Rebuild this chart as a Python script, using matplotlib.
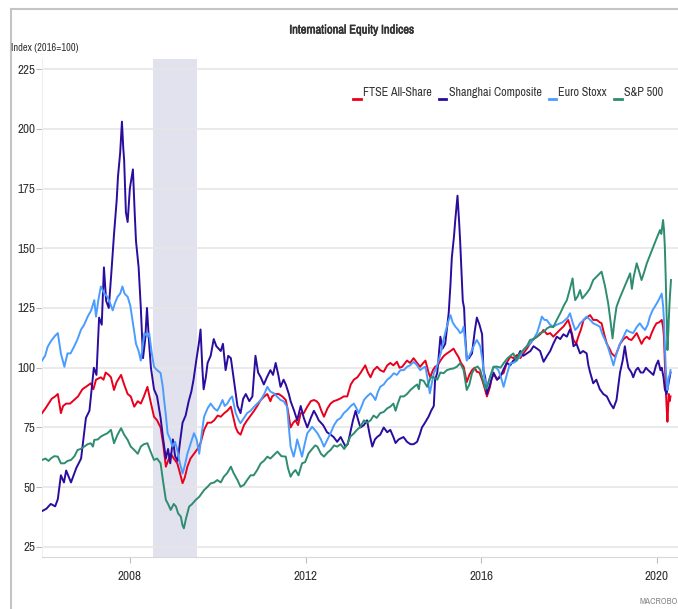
import matplotlib
matplotlib.use('Agg')
import matplotlib.pyplot as plt
import matplotlib.patheffects as pe
from matplotlib import font_manager
from matplotlib.lines import Line2D
from matplotlib.legend_handler import HandlerBase

# the reference uses a condensed sans; take one if the system has it
narrow = None
stretch = 'normal'
for f in font_manager.fontManager.ttflist:
    if 'Narrow' in f.name or 'Condensed' in f.name:
        narrow = f.name
        break
    if f.stretch in ('condensed', 'semi-condensed') and narrow is None:
        narrow, stretch = f.name, f.stretch
if narrow:
    plt.rcParams['font.family'] = [narrow, 'Liberation Sans', 'DejaVu Sans']
    plt.rcParams['font.stretch'] = stretch
    fs = 9
else:
    plt.rcParams['font.family'] = ['Liberation Sans', 'DejaVu Sans']
    fs = 8

title = 'International Equity Indices'
ylabel = 'Index (2016=100)'
names = ['FTSE All-Share', 'Shanghai Composite', 'Euro Stoxx', 'S&P 500']
colors = ['#e8001c', '#2a0c9e', '#4a9cff', '#2e8c70']
recession = (2008.52, 2009.52)
yticks = [25, 50, 75, 100, 125, 150, 175, 200, 225]
xticks = [2008, 2012, 2016, 2020]

# FTSE All-Share
ftse_t = [2006.00, 2006.08, 2006.15, 2006.22, 2006.30, 2006.36, 2006.43, 2006.48, 2006.55, 2006.64,
          2006.73, 2006.82, 2006.92, 2007.00, 2007.11, 2007.17, 2007.23, 2007.34, 2007.40, 2007.45,
          2007.52, 2007.57, 2007.64, 2007.70, 2007.80, 2007.87, 2007.95, 2008.02, 2008.10, 2008.18,
          2008.25, 2008.32, 2008.40, 2008.47, 2008.55, 2008.62, 2008.70, 2008.76, 2008.82, 2008.87,
          2008.93, 2009.00, 2009.08, 2009.14, 2009.20, 2009.25, 2009.31, 2009.38, 2009.46, 2009.54,
          2009.61, 2009.69, 2009.77, 2009.85, 2009.92, 2010.00, 2010.07, 2010.15, 2010.22, 2010.30,
          2010.36, 2010.41, 2010.46, 2010.52, 2010.60, 2010.67, 2010.75, 2010.83, 2010.90, 2010.98,
          2011.06, 2011.13, 2011.20, 2011.24, 2011.32, 2011.39, 2011.47, 2011.55, 2011.60, 2011.66,
          2011.72, 2011.77, 2011.83, 2011.89, 2011.96, 2012.04, 2012.12, 2012.19, 2012.25, 2012.30,
          2012.36, 2012.42, 2012.50, 2012.57, 2012.64, 2012.72, 2012.80, 2012.87, 2012.95, 2013.03,
          2013.10, 2013.18, 2013.25, 2013.36, 2013.42, 2013.48, 2013.55, 2013.63, 2013.70, 2013.78,
          2013.86, 2013.93, 2014.00, 2014.08, 2014.14, 2014.20, 2014.31, 2014.38, 2014.46, 2014.54,
          2014.61, 2014.68, 2014.73, 2014.80, 2014.84, 2014.90, 2014.95, 2015.01, 2015.07, 2015.15,
          2015.22, 2015.30, 2015.37, 2015.43, 2015.48, 2015.54, 2015.60, 2015.67, 2015.73, 2015.79,
          2015.85, 2015.90, 2015.96, 2016.02, 2016.07, 2016.13, 2016.20, 2016.24, 2016.30, 2016.36,
          2016.44, 2016.51, 2016.58, 2016.66, 2016.74, 2016.81, 2016.89, 2016.96, 2017.04, 2017.11,
          2017.19, 2017.27, 2017.34, 2017.42, 2017.50, 2017.57, 2017.64, 2017.72, 2017.80, 2017.87,
          2017.98, 2018.03, 2018.10, 2018.16, 2018.21, 2018.27, 2018.33, 2018.40, 2018.48, 2018.55,
          2018.63, 2018.70, 2018.74, 2018.80, 2018.86, 2018.92, 2018.97, 2019.05, 2019.10, 2019.16,
          2019.24, 2019.31, 2019.36, 2019.42, 2019.48, 2019.54, 2019.60, 2019.65, 2019.71, 2019.77,
          2019.83, 2019.88, 2019.94, 2019.99, 2020.05, 2020.11, 2020.14, 2020.16, 2020.18, 2020.20,
          2020.22, 2020.24, 2020.26, 2020.27, 2020.29, 2020.31]
ftse_v = [81, 83, 85, 87, 88, 89, 81, 84, 85, 85,
          86.5, 88, 91, 92, 93.5, 91, 95, 96, 95, 98,
          97, 96, 90.7, 94, 97, 93, 89, 88, 83.7, 86,
          85, 88, 92, 86, 79.5, 78, 75, 68, 58.6, 61,
          64, 62, 60, 56, 51.7, 54, 58.6, 62, 64, 66,
          68.5, 74, 77, 77, 78, 80, 79.5, 81, 82, 83.7,
          79, 75, 73, 72, 76, 78, 80, 82, 84, 86.5,
          88, 89, 86, 88, 89, 89, 88, 86.5, 82, 75,
          77, 78, 76, 81, 81, 83.7, 86, 86.5, 86, 85,
          82, 79.5, 83, 85, 86, 86.5, 87.2, 88, 88, 93,
          95, 96, 97.8, 101, 98, 96, 99, 100.4, 99, 98.3,
          101, 102, 101, 102.5, 100, 100.4, 103, 102, 104, 102,
          100.4, 102, 103, 98, 96, 99, 100.4, 101, 103, 105,
          106, 107, 108, 106, 104.6, 102, 100.4, 94, 97, 99,
          100, 98.3, 98, 95, 92, 88, 92, 96, 97, 95,
          97, 97.8, 102, 104.6, 104, 105.3, 104, 106, 108, 110,
          112, 113, 114, 115.8, 114, 114.5, 113, 114.5, 116, 117.2,
          120, 117, 111.6, 110, 113, 116, 120, 121, 122, 120,
          120, 119, 118.6, 114, 110, 108, 106, 104.6, 107, 110,
          112, 113, 112, 111.6, 113, 114.5, 112, 110, 112, 113,
          112, 114.5, 117, 118.6, 119, 120, 117, 113, 102, 92,
          84, 77.4, 85, 89, 86, 88]

# Shanghai Composite
shcomp_t = [2006.00, 2006.10, 2006.20, 2006.30, 2006.36, 2006.43, 2006.50, 2006.55, 2006.66, 2006.78,
            2006.89, 2007.00, 2007.08, 2007.18, 2007.24, 2007.30, 2007.36, 2007.41, 2007.46, 2007.52,
            2007.58, 2007.64, 2007.70, 2007.73, 2007.78, 2007.82, 2007.85, 2007.87, 2007.91, 2007.95,
            2008.00, 2008.07, 2008.11, 2008.14, 2008.20, 2008.25, 2008.30, 2008.35, 2008.39, 2008.44,
            2008.48, 2008.55, 2008.62, 2008.70, 2008.76, 2008.82, 2008.87, 2008.92, 2008.98, 2009.03,
            2009.09, 2009.15, 2009.20, 2009.27, 2009.34, 2009.40, 2009.45, 2009.52, 2009.57, 2009.61,
            2009.65, 2009.68, 2009.73, 2009.77, 2009.84, 2009.91, 2009.97, 2010.07, 2010.12, 2010.18,
            2010.24, 2010.30, 2010.36, 2010.45, 2010.52, 2010.58, 2010.64, 2010.72, 2010.79, 2010.86,
            2010.92, 2010.98, 2011.05, 2011.12, 2011.20, 2011.26, 2011.32, 2011.38, 2011.43, 2011.50,
            2011.55, 2011.62, 2011.66, 2011.74, 2011.81, 2011.89, 2011.96, 2012.04, 2012.12, 2012.19,
            2012.25, 2012.30, 2012.40, 2012.49, 2012.57, 2012.64, 2012.72, 2012.80, 2012.91, 2012.96,
            2013.08, 2013.14, 2013.20, 2013.25, 2013.33, 2013.40, 2013.46, 2013.52, 2013.58, 2013.63,
            2013.70, 2013.78, 2013.86, 2013.93, 2014.00, 2014.05, 2014.12, 2014.23, 2014.31, 2014.39,
            2014.46, 2014.54, 2014.60, 2014.65, 2014.72, 2014.80, 2014.86, 2014.92, 2014.95, 2015.00,
            2015.07, 2015.12, 2015.18, 2015.26, 2015.30, 2015.33, 2015.38, 2015.41, 2015.44, 2015.46,
            2015.50, 2015.52, 2015.56, 2015.58, 2015.61, 2015.64, 2015.67, 2015.72, 2015.79, 2015.85,
            2015.90, 2015.96, 2016.02, 2016.05, 2016.09, 2016.13, 2016.20, 2016.28, 2016.36, 2016.43,
            2016.50, 2016.58, 2016.66, 2016.73, 2016.81, 2016.89, 2016.96, 2017.04, 2017.12, 2017.19,
            2017.27, 2017.34, 2017.42, 2017.50, 2017.57, 2017.64, 2017.72, 2017.80, 2017.87, 2017.95,
            2018.02, 2018.06, 2018.10, 2018.17, 2018.25, 2018.32, 2018.40, 2018.44, 2018.48, 2018.55,
            2018.62, 2018.70, 2018.78, 2018.86, 2018.94, 2019.01, 2019.08, 2019.16, 2019.22, 2019.27,
            2019.31, 2019.35, 2019.42, 2019.46, 2019.52, 2019.57, 2019.63, 2019.69, 2019.75, 2019.80,
            2019.86, 2019.92, 2019.98, 2020.03, 2020.08, 2020.11, 2020.15, 2020.18, 2020.22, 2020.26,
            2020.31]
shcomp_v = [40, 41, 43, 42, 45, 55, 52, 57, 52, 58,
            62, 79, 82, 100, 97, 121, 118, 142, 128, 125,
            140, 156, 170, 180, 190, 203, 192, 187, 165, 161,
            175, 183, 165, 153, 142, 125, 104, 112, 125, 110,
            100, 91, 88, 79, 70, 62, 66, 60, 70, 63,
            61, 70, 77, 80, 86, 90, 95, 104, 110, 116,
            100, 91, 96, 102, 105, 112, 109, 107, 110, 99,
            105, 104, 96, 84, 81, 87, 89, 86, 88, 105,
            98, 96, 93, 96, 99, 97, 102, 97, 92, 95,
            93, 89, 86, 82, 78, 84, 79, 75, 79, 82,
            80, 78, 76, 73, 72, 71, 69, 71, 67, 68,
            78, 82, 78, 75, 76, 78, 72, 67, 70, 71,
            72, 75, 73, 74, 71, 68.5, 70, 71, 69, 68,
            68, 69, 72, 75, 77, 79.5, 82, 84, 95, 98,
            113, 108, 110, 123, 135, 146, 155, 162, 168, 172,
            160, 153, 137, 128, 125, 112, 104, 104, 106, 115,
            121, 118, 114, 99, 96, 89, 93, 98, 95, 96,
            99, 102, 101, 103, 104, 107, 105, 106, 107, 109,
            108, 107, 102.5, 105, 107, 110, 113, 112, 114, 113,
            116, 114, 109, 110, 106, 107, 106, 101, 98, 93.5,
            95, 91, 89, 88, 85, 83, 86.5, 98, 103, 109,
            104, 100, 98, 96, 99, 100, 98, 98, 100, 99,
            98, 97, 101, 103, 99, 100, 96, 91, 89, 93,
            98]

# Euro Stoxx
estoxx_t = [2006.00, 2006.07, 2006.13, 2006.20, 2006.28, 2006.36, 2006.43, 2006.51, 2006.58, 2006.65,
            2006.73, 2006.81, 2006.89, 2006.96, 2007.04, 2007.12, 2007.19, 2007.23, 2007.28, 2007.34,
            2007.42, 2007.49, 2007.55, 2007.61, 2007.66, 2007.72, 2007.78, 2007.83, 2007.88, 2007.95,
            2008.01, 2008.06, 2008.10, 2008.14, 2008.20, 2008.25, 2008.33, 2008.40, 2008.44, 2008.50,
            2008.55, 2008.62, 2008.70, 2008.75, 2008.78, 2008.82, 2008.86, 2008.92, 2008.97, 2009.03,
            2009.08, 2009.14, 2009.20, 2009.25, 2009.31, 2009.38, 2009.46, 2009.52, 2009.58, 2009.64,
            2009.69, 2009.77, 2009.84, 2009.92, 2009.99, 2010.05, 2010.11, 2010.16, 2010.22, 2010.28,
            2010.33, 2010.41, 2010.48, 2010.52, 2010.60, 2010.67, 2010.75, 2010.83, 2010.90, 2010.98,
            2011.06, 2011.13, 2011.20, 2011.28, 2011.35, 2011.43, 2011.50, 2011.58, 2011.62, 2011.66,
            2011.73, 2011.77, 2011.81, 2011.87, 2011.92, 2011.98, 2012.04, 2012.10, 2012.15, 2012.21,
            2012.27, 2012.35, 2012.42, 2012.50, 2012.57, 2012.65, 2012.72, 2012.80, 2012.87, 2012.95,
            2013.03, 2013.10, 2013.16, 2013.21, 2013.28, 2013.33, 2013.40, 2013.48, 2013.54, 2013.59,
            2013.65, 2013.70, 2013.78, 2013.86, 2013.93, 2014.01, 2014.08, 2014.16, 2014.24, 2014.31,
            2014.38, 2014.46, 2014.54, 2014.61, 2014.68, 2014.73, 2014.79, 2014.83, 2014.88, 2014.92,
            2014.98, 2015.03, 2015.09, 2015.14, 2015.20, 2015.26, 2015.30, 2015.35, 2015.41, 2015.47,
            2015.52, 2015.56, 2015.60, 2015.64, 2015.67, 2015.73, 2015.79, 2015.85, 2015.90, 2015.95,
            2015.98, 2016.03, 2016.07, 2016.13, 2016.20, 2016.28, 2016.34, 2016.39, 2016.45, 2016.51,
            2016.58, 2016.66, 2016.73, 2016.81, 2016.89, 2016.96, 2017.04, 2017.11, 2017.19, 2017.27,
            2017.33, 2017.38, 2017.44, 2017.49, 2017.57, 2017.64, 2017.72, 2017.80, 2017.85, 2017.91,
            2017.97, 2018.02, 2018.08, 2018.14, 2018.20, 2018.25, 2018.33, 2018.40, 2018.48, 2018.55,
            2018.62, 2018.70, 2018.76, 2018.82, 2018.88, 2018.93, 2018.98, 2019.01, 2019.08, 2019.16,
            2019.24, 2019.31, 2019.38, 2019.46, 2019.54, 2019.61, 2019.67, 2019.73, 2019.79, 2019.84,
            2019.90, 2019.95, 2020.03, 2020.11, 2020.14, 2020.16, 2020.18, 2020.20, 2020.22, 2020.24,
            2020.26, 2020.27, 2020.29, 2020.31]
estoxx_v = [103, 105, 108.8, 111, 113, 114.5, 106, 100.4, 106, 106,
            108.8, 112, 116, 118, 121.4, 124, 128.3, 121.4, 128, 134,
            131, 129.7, 127, 124, 127, 129.7, 131, 134, 131, 129.7,
            126, 120, 115, 110, 107, 103, 114.5, 113, 114.5, 106,
            100.4, 99, 97.8, 92, 86.5, 80, 72.6, 70, 67, 69,
            65.6, 60, 55.8, 59, 64, 68, 72.6, 70, 64, 73,
            79.5, 83, 85, 83, 82, 84, 86.5, 84, 85, 87,
            88, 81, 78, 76.8, 79, 81, 82, 83.7, 85, 86.5,
            89, 92, 90, 89.3, 88, 86.5, 86, 83.7, 75, 67,
            62.8, 66, 70, 66, 62.8, 68, 72.6, 74, 75.3, 74,
            72.6, 70, 67, 70, 72.6, 76, 78, 79, 81, 82.3,
            84, 85, 83, 81, 84, 86.5, 88, 89.3, 88, 86.5,
            90, 92, 93, 95, 96, 97.7, 97, 99, 99, 100.4,
            101, 102.5, 101, 99, 100, 100.4, 94, 89.3, 94, 97.7,
            100, 103, 107, 111.6, 116, 120, 122, 119, 117.2, 116,
            114.5, 115, 117.2, 110, 103, 105, 107.4, 110, 111.6, 110,
            108.8, 103, 96, 92, 96, 100.4, 100, 99, 96, 92,
            97, 101.9, 102, 103, 105, 107.4, 109, 110, 112, 114.5,
            118, 121.4, 120, 120, 118, 117.2, 118, 118.6, 119, 120,
            121, 122.8, 119, 115.8, 117, 118.6, 120, 121.4, 120, 118.6,
            118, 117.2, 114, 111.6, 109, 106, 103, 101, 106, 110,
            113, 115.8, 115, 114.5, 117, 118.6, 117, 115.8, 118, 121.4,
            124, 125.5, 128, 131, 126, 120, 110, 100.4, 94, 90.7,
            94, 96, 97, 99]

# S&P 500
spx_t = [2006.00, 2006.08, 2006.15, 2006.20, 2006.28, 2006.36, 2006.43, 2006.51, 2006.58, 2006.66,
         2006.74, 2006.81, 2006.88, 2006.96, 2007.04, 2007.11, 2007.16, 2007.19, 2007.27, 2007.34,
         2007.42, 2007.49, 2007.57, 2007.64, 2007.72, 2007.80, 2007.87, 2007.95, 2008.02, 2008.10,
         2008.18, 2008.25, 2008.32, 2008.40, 2008.47, 2008.55, 2008.62, 2008.70, 2008.76, 2008.82,
         2008.87, 2008.93, 2009.00, 2009.05, 2009.10, 2009.16, 2009.20, 2009.23, 2009.28, 2009.35,
         2009.42, 2009.50, 2009.58, 2009.69, 2009.76, 2009.84, 2009.92, 2009.99, 2010.07, 2010.14,
         2010.22, 2010.30, 2010.36, 2010.45, 2010.52, 2010.60, 2010.67, 2010.75, 2010.82, 2010.90,
         2010.98, 2011.05, 2011.13, 2011.20, 2011.28, 2011.36, 2011.45, 2011.55, 2011.60, 2011.66,
         2011.71, 2011.77, 2011.84, 2011.92, 2011.99, 2012.07, 2012.15, 2012.22, 2012.27, 2012.35,
         2012.42, 2012.50, 2012.57, 2012.65, 2012.72, 2012.80, 2012.88, 2012.95, 2013.02, 2013.10,
         2013.17, 2013.25, 2013.33, 2013.40, 2013.48, 2013.55, 2013.62, 2013.70, 2013.78, 2013.86,
         2013.93, 2014.00, 2014.05, 2014.10, 2014.16, 2014.24, 2014.31, 2014.39, 2014.47, 2014.54,
         2014.58, 2014.61, 2014.69, 2014.77, 2014.85, 2014.92, 2015.00, 2015.07, 2015.14, 2015.22,
         2015.30, 2015.37, 2015.45, 2015.52, 2015.60, 2015.67, 2015.73, 2015.79, 2015.86, 2015.92,
         2015.98, 2016.05, 2016.10, 2016.13, 2016.20, 2016.28, 2016.36, 2016.44, 2016.51, 2016.60,
         2016.73, 2016.80, 2016.86, 2016.96, 2017.04, 2017.11, 2017.19, 2017.27, 2017.34, 2017.42,
         2017.50, 2017.57, 2017.64, 2017.72, 2017.80, 2017.88, 2017.95, 2018.02, 2018.08, 2018.11,
         2018.14, 2018.20, 2018.25, 2018.30, 2018.40, 2018.47, 2018.55, 2018.62, 2018.70, 2018.74,
         2018.78, 2018.82, 2018.86, 2018.89, 2018.94, 2018.99, 2019.03, 2019.08, 2019.15, 2019.23,
         2019.31, 2019.39, 2019.43, 2019.47, 2019.54, 2019.60, 2019.65, 2019.71, 2019.77, 2019.84,
         2019.92, 2019.99, 2020.07, 2020.10, 2020.14, 2020.16, 2020.18, 2020.20, 2020.22, 2020.24,
         2020.26, 2020.27, 2020.29, 2020.32]
spx_v = [61.4, 62, 61, 62, 63, 62.8, 60, 60, 61, 61.4,
         63, 65.6, 66, 67, 68, 68.4, 67, 69.8, 70, 71.2,
         72, 72.6, 74, 68.4, 72, 74.7, 72, 69.8, 67, 65.6,
         64, 67, 68, 68.4, 65, 61.4, 62, 60, 52, 44.7,
         43, 40.5, 43, 41.9, 39, 37.7, 34, 32.8, 37, 41.9,
         43, 44.7, 46, 48.8, 50, 51.6, 52, 53, 52, 54.4,
         56, 58.6, 56, 53, 50.2, 51, 53, 55, 55, 57.2,
         60, 61, 62.8, 62, 63.5, 64.9, 63, 62.8, 58, 54.4,
         56, 57.2, 55, 60, 60.5, 64.2, 66, 67.5, 67, 64,
         62.8, 64.5, 65.6, 67.5, 67, 68, 66, 68, 71.2, 72.5,
         74, 75.3, 78, 77, 78, 80, 79, 81, 81.5, 83,
         83.7, 85, 82, 85, 88, 88, 89, 90.7, 92, 93,
         91, 95, 94.5, 92, 96, 96, 95, 98, 97.7, 99,
         99.5, 99.7, 100.5, 101.9, 99, 90.7, 93, 97.7, 100, 100.5,
         99, 94, 91, 92, 96, 100.4, 100.5, 100, 101.9, 104,
         106, 103, 105.5, 107.4, 109, 111.6, 112, 113, 114.5, 115,
         116.5, 117.2, 117, 120, 122.8, 126, 128.3, 133, 137.4, 132,
         128.3, 130, 132.5, 129, 131.2, 133, 136.7, 138, 139.5, 140.2,
         137, 134, 130, 127, 120, 112.3, 119, 125.5, 129, 132.5,
         136, 139.5, 133, 138, 143.7, 140, 136.7, 140, 143.7, 147,
         150.7, 154, 157.6, 156, 161.8, 158, 150.7, 138, 122.8, 107.4,
         115, 120, 128, 136.7]

series = [(ftse_t, ftse_v), (shcomp_t, shcomp_v), (estoxx_t, estoxx_v), (spx_t, spx_v)]


class LowDash(HandlerBase):
    # legend key drawn as a short dash sitting at the text baseline
    def create_artists(self, legend, orig, xd, yd, width, height, fontsize, trans):
        ln = Line2D([-xd, -xd + width], [-yd - 2, -yd - 2], color=orig.get_color(), lw=2)
        ln.set_transform(trans)
        return [ln]


fig = plt.figure(figsize=(6.78, 6.09), dpi=100)
ax = fig.add_axes([42 / 678, 1 - 557 / 609, 1 - 42 / 678, (557 - 59) / 609])

ax.axvspan(recession[0], recession[1], color='#e2e2ef', lw=0, zorder=0)

handles = []
for (t, v), name, c in zip(series, names, colors):
    h, = ax.plot(t, v, color=c, lw=1.4, label=name, zorder=3)
    handles.append(h)

ax.set_xlim(2006.0, 2020.48)
ax.set_ylim(20.8, 229.2)
ax.set_yticks(yticks)
ax.set_xticks(xticks)
ax.grid(axis='y', color='#e6e6e6', lw=1.2)
ax.set_axisbelow(True)
for s in ['top', 'right']:
    ax.spines[s].set_visible(False)
ax.spines['left'].set_color('#eeeeee')
ax.spines['bottom'].set_color('#d8d8d8')
ax.tick_params(axis='y', length=4, width=0.8, color='#bbbbbb', labelsize=fs + 0.5, labelcolor='#333333', pad=1)
ax.tick_params(axis='x', length=4, width=0.8, color='#bbbbbb', labelsize=fs + 0.5, labelcolor='#333333', pad=6)

fig.legend(handles=handles, labels=names, handler_map={Line2D: LowDash()},
           loc='center right', bbox_to_anchor=(674 / 678, 1 - 93 / 609), ncol=4, frameon=False,
           fontsize=fs - 0.3, handlelength=0.6, handletextpad=0.2, columnspacing=0.6, labelcolor='#333333')

fig.text(352 / 678, 1 - 30 / 609, title, ha='center', va='center', fontsize=fs,
         color='#333333', path_effects=[pe.withStroke(linewidth=0.4, foreground='#333333')])
fig.text(11 / 678, 1 - 48 / 609, ylabel, ha='left', va='center', fontsize=fs - 1.5, color='#333333')
fig.text(640 / 678, 1 - 601 / 609, 'MACROBOND', ha='left', va='center', fontsize=6.5, color='#888888')

# card border on top and left
fig.add_artist(Line2D([11 / 678, 11 / 678], [0, 1 - 9 / 609], transform=fig.transFigure, color='#c4c4c4', lw=1.5))
fig.add_artist(Line2D([11 / 678, 1], [1 - 9 / 609, 1 - 9 / 609], transform=fig.transFigure, color='#c4c4c4', lw=1.5))

fig.savefig('out.png', dpi=100)
